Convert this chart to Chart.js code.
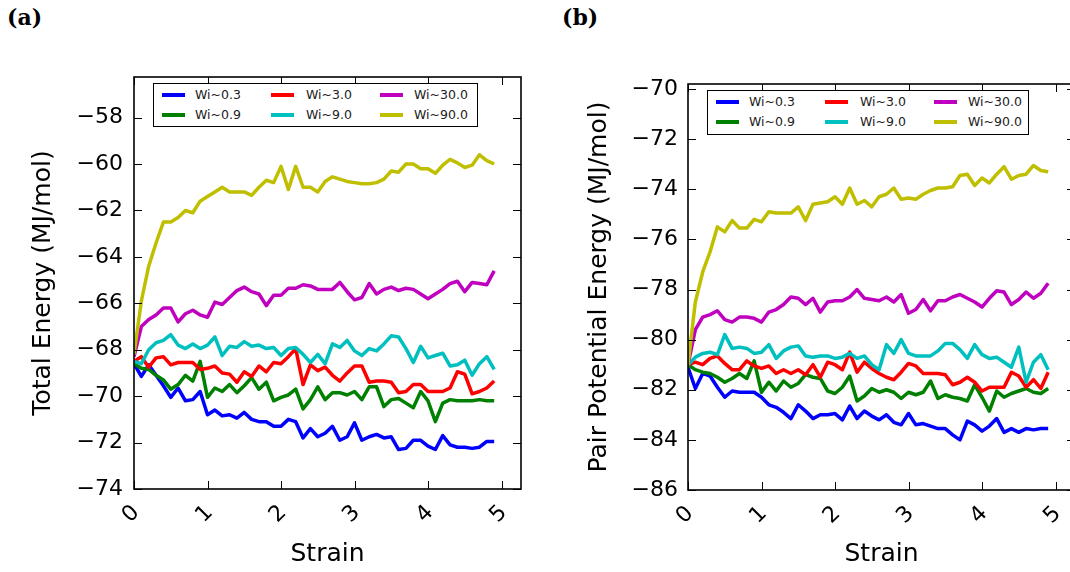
<!DOCTYPE html>
<html><head><meta charset="utf-8">
<script src="https://cdn.jsdelivr.net/npm/chart.js@4.4.1/dist/chart.umd.min.js"></script>
<style>
html,body{margin:0;padding:0;background:#fff;overflow:hidden;}
body{width:1070px;height:572px;position:relative;font-family:'DejaVu Sans';}
.panel{position:absolute;top:0;width:540px;height:572px;}
.lab{position:absolute;font:bold 22px 'DejaVu Serif';color:#000;line-height:26px;}
.legend{position:absolute;background:#fff;border:1.5px solid #000;box-sizing:border-box;z-index:5;}
.li{position:absolute;height:4px;width:23px;}
.lt{position:absolute;font:12.5px 'DejaVu Sans';color:#222;line-height:14px;white-space:nowrap;}
</style></head><body>
<div class="lab" style="left:7px;top:4px;">(a)</div>
<div class="lab" style="left:562px;top:4px;">(b)</div>
<div class="panel" style="left:0px;"><canvas id="c1" width="540" height="572"></canvas></div>
<div class="panel" style="left:550px;"><canvas id="c2" width="540" height="572"></canvas></div>
<div class="legend" id="lg1" style="left:153px;top:83px;width:325px;height:44px;"></div>
<div class="legend" id="lg2" style="left:707px;top:90px;width:322px;height:45px;"></div>
<script>
const STRAIN = [0,0.1,0.2,0.3,0.4,0.5,0.6,0.7,0.8,0.9,1.0,1.1,1.2,1.3,1.4,1.5,1.6,1.7,1.8,1.9,2.0,2.1,2.2,2.3,2.4,2.5,2.6,2.7,2.8,2.9,3.0,3.1,3.2,3.3,3.4,3.5,3.6,3.7,3.8,3.9,4.0,4.1,4.2,4.3,4.4,4.5,4.6,4.7,4.8,4.9];
const SERIES_NAMES = ['Wi~0.3','Wi~0.9','Wi~3.0','Wi~9.0','Wi~30.0','Wi~90.0'];
const SERIES_COLORS = ['#0000ff','#008000','#ff0000','#00bfbf','#bf00bf','#bfbf00'];
const X_TICKS = [0,1,2,3,4,5];
const Y_TICKS_TOTAL = [-74,-72,-70,-68,-66,-64,-62,-60,-58];
const Y_TICKS_PAIR = [-86,-84,-82,-80,-78,-76,-74,-72,-70];

// (a) Total Energy
const TOTAL_WI03 = [-68.6,-69.15,-68.65,-69.1,-69.55,-70.05,-69.65,-70.2,-70.15,-69.8,
-70.8,-70.6,-70.85,-70.8,-70.95,-70.7,-71.0,-71.1,-71.1,-71.3,
-71.3,-71.0,-71.1,-71.8,-71.4,-71.75,-71.6,-71.3,-71.9,-71.75,
-71.15,-71.9,-71.75,-71.65,-71.8,-71.75,-72.3,-72.25,-71.9,-71.9,
-72.15,-72.3,-71.7,-72.1,-72.2,-72.2,-72.25,-72.2,-71.95,-71.95];
const TOTAL_WI09 = [-68.6,-68.8,-68.85,-69.1,-69.3,-69.7,-69.5,-69.1,-69.35,-68.5,
-70.05,-69.65,-69.8,-69.5,-69.85,-69.55,-69.2,-69.7,-69.4,-70.2,
-70.05,-69.95,-69.7,-70.55,-70.15,-69.6,-70.15,-69.85,-69.85,-69.95,
-69.8,-70.15,-69.6,-69.6,-70.45,-70.15,-70.1,-70.3,-70.5,-69.8,
-70.2,-71.1,-70.3,-70.15,-70.2,-70.2,-70.2,-70.15,-70.2,-70.2];
const TOTAL_WI3 = [-68.5,-68.3,-68.75,-68.35,-68.3,-68.65,-68.55,-68.55,-68.55,-68.85,
-68.8,-68.7,-69.0,-69.05,-69.4,-68.95,-69.15,-68.7,-68.95,-68.55,
-68.6,-68.3,-67.95,-69.5,-68.65,-68.9,-68.75,-69.1,-69.35,-69.0,
-68.7,-68.7,-69.4,-69.35,-69.35,-69.4,-69.85,-69.8,-69.5,-69.5,
-69.8,-69.8,-69.8,-69.65,-68.95,-69.05,-69.9,-69.8,-69.65,-69.35];
const TOTAL_WI9 = [-68.5,-68.6,-68.0,-67.7,-67.6,-67.35,-67.8,-67.95,-67.75,-67.95,
-67.8,-67.45,-68.25,-67.85,-67.9,-67.65,-67.85,-67.8,-67.95,-67.9,
-68.25,-67.95,-67.9,-68.2,-68.55,-68.2,-68.6,-67.75,-67.9,-67.6,
-68.05,-68.25,-67.95,-68.05,-67.75,-67.4,-67.45,-67.95,-68.55,-67.85,
-68.35,-68.25,-68.15,-68.7,-68.65,-68.45,-69.1,-68.6,-68.3,-68.85];
const TOTAL_WI30 = [-68.3,-67.0,-66.7,-66.5,-66.2,-66.2,-66.8,-66.45,-66.3,-66.5,
-66.6,-65.95,-66.05,-65.75,-65.45,-65.3,-65.5,-65.6,-66.1,-65.65,
-65.65,-65.35,-65.35,-65.2,-65.25,-65.4,-65.4,-65.4,-65.1,-65.5,
-65.85,-65.75,-65.15,-65.6,-65.4,-65.3,-65.45,-65.35,-65.4,-65.6,
-65.8,-65.6,-65.4,-65.15,-65.05,-65.5,-65.1,-65.15,-65.2,-64.6];
const TOTAL_WI90 = [-68.2,-65.9,-64.4,-63.4,-62.5,-62.5,-62.3,-62.0,-62.1,-61.6,
-61.4,-61.2,-61.0,-61.2,-61.2,-61.2,-61.35,-61.0,-60.7,-60.8,
-60.1,-61.1,-60.1,-61.0,-61.0,-61.2,-60.75,-60.55,-60.65,-60.75,
-60.8,-60.85,-60.85,-60.8,-60.65,-60.3,-60.35,-60.0,-60.0,-60.2,
-60.2,-60.4,-60.05,-59.8,-59.95,-60.15,-60.05,-59.6,-59.85,-60.0];

// (b) Pair Potential Energy
const PAIR_WI03 = [-81.1,-81.95,-81.35,-81.45,-81.9,-82.3,-82.05,-82.1,-82.1,-82.1,
-82.3,-82.6,-82.7,-82.9,-83.15,-82.6,-82.85,-83.15,-83.0,-83.0,
-82.95,-83.2,-82.65,-83.15,-82.85,-83.05,-83.2,-83.0,-83.3,-83.4,
-82.95,-83.4,-83.35,-83.45,-83.55,-83.55,-83.8,-84.0,-83.25,-83.4,
-83.65,-83.45,-83.15,-83.7,-83.55,-83.7,-83.55,-83.6,-83.55,-83.55];
const PAIR_WI09 = [-81.0,-81.2,-81.3,-81.35,-81.5,-81.7,-81.55,-81.35,-81.55,-80.85,
-82.1,-81.7,-82.05,-81.65,-81.9,-81.75,-81.4,-81.5,-81.55,-82.05,
-82.15,-81.9,-81.45,-82.45,-82.25,-81.95,-82.1,-82.0,-82.1,-82.35,
-82.1,-82.2,-82.1,-81.65,-82.35,-82.2,-82.3,-82.35,-82.45,-81.8,
-82.3,-82.85,-82.05,-82.3,-82.15,-82.05,-81.95,-82.1,-82.15,-81.95];
const PAIR_WI3 = [-81.0,-80.9,-81.0,-80.75,-80.65,-80.95,-81.2,-81.2,-80.85,-81.05,
-81.15,-81.05,-81.35,-81.2,-81.35,-81.2,-81.4,-81.0,-81.5,-80.9,
-81.0,-81.2,-80.5,-81.3,-80.9,-81.15,-81.35,-81.5,-81.6,-81.3,
-80.95,-81.05,-81.35,-81.35,-81.35,-81.4,-81.8,-81.7,-81.5,-81.7,
-82.05,-81.9,-81.9,-81.9,-81.3,-81.45,-81.9,-81.6,-81.95,-81.3];
const PAIR_WI9 = [-81.0,-80.7,-80.55,-80.5,-80.6,-79.8,-80.35,-80.3,-80.35,-80.55,
-80.5,-80.2,-80.75,-80.45,-80.3,-80.25,-80.65,-80.7,-80.65,-80.65,
-80.75,-80.7,-80.55,-80.75,-80.65,-81.0,-81.2,-80.2,-80.55,-80.0,
-80.55,-80.65,-80.65,-80.65,-80.45,-80.15,-80.15,-80.4,-80.75,-80.2,
-80.6,-80.75,-80.7,-80.9,-81.1,-80.3,-81.7,-80.9,-80.6,-81.2];
const PAIR_WI30 = [-81.0,-79.6,-79.1,-79.0,-78.85,-79.2,-79.3,-79.1,-79.1,-79.15,
-79.3,-78.9,-78.8,-78.6,-78.3,-78.35,-78.6,-78.35,-78.9,-78.5,
-78.45,-78.45,-78.3,-78.0,-78.35,-78.4,-78.45,-78.3,-78.5,-78.2,
-78.95,-78.8,-78.4,-78.85,-78.45,-78.45,-78.3,-78.2,-78.35,-78.5,
-78.7,-78.35,-78.05,-78.1,-78.6,-78.4,-78.1,-78.35,-78.15,-77.75];
const PAIR_WI90 = [-81.0,-78.5,-77.3,-76.5,-75.5,-75.7,-75.25,-75.55,-75.55,-75.2,
-75.3,-74.9,-74.95,-74.95,-74.95,-74.7,-75.25,-74.6,-74.55,-74.5,
-74.3,-74.6,-73.95,-74.6,-74.45,-74.7,-74.3,-74.2,-73.95,-74.4,
-74.35,-74.4,-74.2,-74.05,-73.95,-73.95,-73.9,-73.45,-73.4,-73.85,
-73.55,-73.75,-73.4,-73.1,-73.6,-73.45,-73.4,-73.05,-73.25,-73.3];

const TOTAL_SERIES = [TOTAL_WI03, TOTAL_WI09, TOTAL_WI3, TOTAL_WI9, TOTAL_WI30, TOTAL_WI90];
const PAIR_SERIES = [PAIR_WI03, PAIR_WI09, PAIR_WI3, PAIR_WI9, PAIR_WI30, PAIR_WI90];

const minusFmt = v => String(v).replace('-', '\u2212');

const framePlugin = {
  id: 'frame',
  afterDatasetsDraw(chart) {
    const {ctx, chartArea: a, scales: {x, y}} = chart;
    ctx.save();
    ctx.strokeStyle = '#000';
    ctx.lineWidth = 1;
    const L = 8;
    ctx.beginPath();
    x.ticks.forEach(t => {
      const px = Math.round(x.getPixelForValue(t.value)) + 0.5;
      ctx.moveTo(px, a.bottom); ctx.lineTo(px, a.bottom - L);
      ctx.moveTo(px, a.top); ctx.lineTo(px, a.top + L);
    });
    y.ticks.forEach(t => {
      const py = Math.round(y.getPixelForValue(t.value)) + 0.5;
      ctx.moveTo(a.left, py); ctx.lineTo(a.left + L, py);
      ctx.moveTo(a.right, py); ctx.lineTo(a.right - L, py);
    });
    ctx.stroke();
    ctx.lineWidth = 1.6;
    ctx.strokeRect(a.left, a.top, a.right - a.left, a.bottom - a.top);
    ctx.restore();
  }
};

function makeChart(id, series, yTicks, yMin, yMax, yTitle, area, yTitlePad, yTickPad) {
  const datasets = series.map((vals, k) => ({
    label: SERIES_NAMES[k],
    data: STRAIN.map((s, i) => ({x: s, y: vals[i]})),
    borderColor: SERIES_COLORS[k],
    backgroundColor: SERIES_COLORS[k],
    borderWidth: 3.5,
    pointRadius: 0,
    tension: 0,
    fill: false,
    borderJoinStyle: 'round',
    order: series.length - k
  }));
  return new Chart(document.getElementById(id), {
    type: 'line',
    data: {datasets},
    options: {
      responsive: false,
      animation: false,
      devicePixelRatio: 1,
      layout: {padding: {left: 0, top: area.top, right: 540 - area.right, bottom: 0}},
      plugins: {legend: {display: false}, tooltip: {enabled: false}, title: {display: false}},
      scales: {
        x: {
          type: 'linear', min: 0, max: 5.265,
          afterBuildTicks: s => { s.ticks = X_TICKS.map(v => ({value: v})); },
          afterFit: s => { s.height = 572 - area.bottom; s.paddingLeft = 0; s.paddingRight = 0; },
          grid: {display: false, drawTicks: false},
          border: {display: false},
          ticks: {font: {family: 'DejaVu Sans', size: 22}, color: '#000', minRotation: 45, maxRotation: 45,
                  padding: 11, labelOffset: 2, autoSkip: false, callback: minusFmt},
          title: {display: true, text: 'Strain', font: {family: 'DejaVu Sans', size: 25}, color: '#000',
                  padding: {top: 0, bottom: 3}}
        },
        y: {
          type: 'linear', min: yMin, max: yMax,
          afterBuildTicks: s => { s.ticks = yTicks.map(v => ({value: v})); },
          afterFit: s => { s.width = area.left; s.paddingTop = 0; s.paddingBottom = 0; },
          grid: {display: false, drawTicks: false},
          border: {display: false},
          ticks: {font: {family: 'DejaVu Sans', size: 22}, color: '#000', padding: yTickPad,
                  autoSkip: false, callback: minusFmt},
          title: {display: true, text: yTitle, font: {family: 'DejaVu Sans', size: 25}, color: '#000',
                  padding: {top: yTitlePad, bottom: 0}}
        }
      }
    },
    plugins: [framePlugin]
  });
}

makeChart('c1', TOTAL_SERIES, Y_TICKS_TOTAL, -74, -56.25, 'Total Energy (MJ/mol)',
  {left: 134, right: 521, top: 77, bottom: 489}, 28, 11);
makeChart('c2', PAIR_SERIES, Y_TICKS_PAIR, -86, -69.8, 'Pair Potential Energy (MJ/mol)',
  {left: 138, right: 525, top: 84, bottom: 490}, 34, 10);

function buildLegend(id) {
  const box = document.getElementById(id);
  const lineX = [8, 117, 226], textX = [41, 152, 260], rowY = [11, 31];
  SERIES_NAMES.forEach((name, k) => {
    const col = Math.floor(k / 2), row = k % 2;
    const ln = document.createElement('div');
    ln.className = 'li';
    ln.style.left = lineX[col] + 'px';
    ln.style.top = (rowY[row] - 2) + 'px';
    ln.style.background = SERIES_COLORS[k];
    box.appendChild(ln);
    const tx = document.createElement('div');
    tx.className = 'lt';
    tx.style.left = textX[col] + 'px';
    tx.style.top = (rowY[row] - 7) + 'px';
    tx.textContent = name;
    box.appendChild(tx);
  });
}
buildLegend('lg1');
buildLegend('lg2');
</script>
</body></html>
